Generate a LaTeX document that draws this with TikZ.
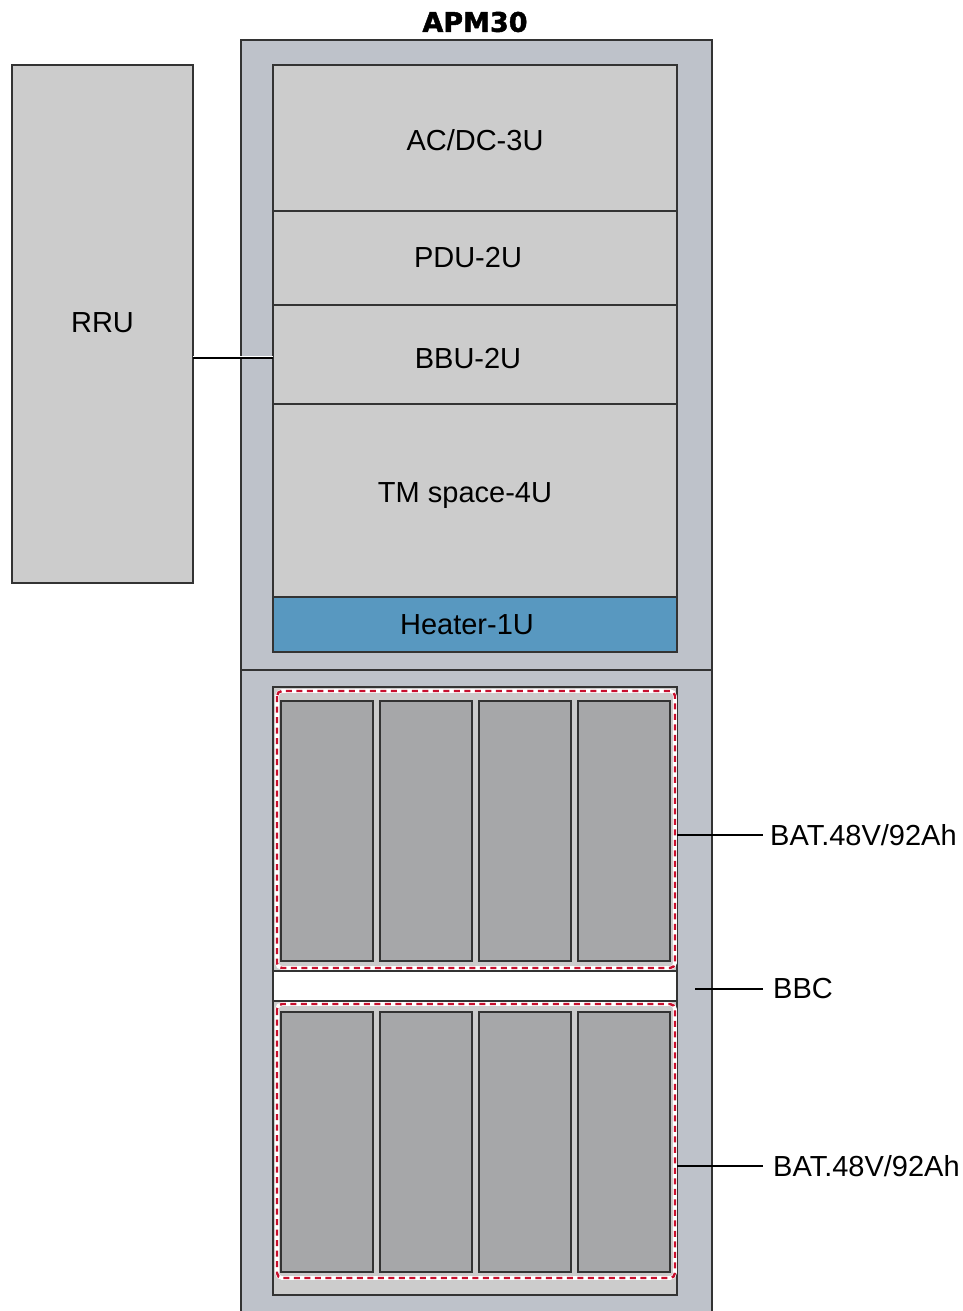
\documentclass[tikz,border=0pt]{standalone}
\usepackage{fontspec}
\setmainfont{Liberation Sans}
\newfontfamily\titlefont{DejaVu Sans Bold}[FakeBold=1.6]
\definecolor{cabgrey}{HTML}{BEC2CA}
\definecolor{boxgrey}{HTML}{CCCCCC}
\definecolor{batgrey}{HTML}{A6A7A9}
\definecolor{heatblue}{HTML}{5898C0}
\definecolor{edge}{HTML}{333333}
\definecolor{dashred}{HTML}{C8102E}
\tikzset{
  box/.style={draw=edge, line width=1.3pt, inner sep=0pt, outer sep=0pt, rectangle, font=\fontsize{29}{35}\selectfont},
  unitbox/.style={box, fill=boxgrey, minimum width=404pt},
  cell/.style={draw=edge, line width=1.5pt, fill=batgrey, minimum width=92pt, minimum height=260pt, inner sep=0pt, outer sep=0pt},
  leader/.style={draw=black, line width=1.5pt},
  lbl/.style={font=\fontsize{29}{35}\selectfont, inner sep=7pt, anchor=west},
}
\begin{document}
\begin{tikzpicture}[x=1pt,y=-1pt]
\useasboundingbox (0,0) rectangle (963,1311);
\fill[white] (0,0) rectangle (963,1311);
% title
\node[font=\titlefont\fontsize{27}{32}\selectfont, inner sep=0pt] (title) at (475,22) {APM30};
% cabinet
\node[box, fill=cabgrey, minimum width=471pt, minimum height=1275pt] (cab) at (476.5,677.5) {};
\draw[draw=edge, line width=1.5pt] (cab.west |- 0,670) coordinate (divl) -- (cab.east |- 0,670) coordinate (divr);
% RRU
\node[box, fill=boxgrey, minimum width=181pt, minimum height=518pt] (rru) at (102.5,324) {\raisebox{1pt}[\height][\depth]{RRU}};
% upper units
\node[unitbox, minimum height=146pt] (acdc) at (475,138) {\raisebox{-2pt}[\height][\depth]{AC/DC-3U}};
\node[unitbox, minimum height=94pt] (pdu) at (475,258) {\hspace*{-14pt}PDU-2U};
\node[unitbox, minimum height=99pt] (bbu) at (475,354.5) {\raisebox{-4pt}[\height][\depth]{\hspace*{-14pt}BBU-2U}};
\node[unitbox, minimum height=193pt] (tm) at (475,500.5) {\raisebox{5pt}[\height][\depth]{\hspace*{-20pt}TM space-4U}};
\node[unitbox, fill=heatblue, minimum height=55pt] (heater) at (475,624.5) {\hspace*{-16pt}Heater-1U};
% RRU connector
\draw[white, line width=1pt] ([yshift=1.5pt]bbu.west |- 0,358) -- ([yshift=1.5pt]rru.east |- 0,358);
\draw[black, line width=1.2pt] (bbu.west |- 0,358) -- (rru.east |- 0,358);
% lower box
\node[box, fill=boxgrey, minimum width=404pt, minimum height=608pt] (low) at (475,991) {};
% BBC strip
\node[box, fill=white, minimum width=404pt, minimum height=30pt] (bbc) at (475,986) {};
% battery cells
\foreach \i/\x in {1/327,2/426,3/525,4/624} {
  \node[cell] (ua\i) at (\x,831) {};
  \node[cell] (lb\i) at (\x,1142) {};
}
% dashed groups
\draw[white, line width=3.6pt, rounded corners=5pt] (277,691) rectangle (675,968);
\draw[dashred, line width=2.4pt, rounded corners=5pt, dash pattern=on 6pt off 4.5pt] (277,691) rectangle (675,968);
\draw[white, line width=3.6pt, rounded corners=5pt] (277,1004) rectangle (675,1278);
\draw[dashred, line width=2.4pt, rounded corners=5pt, dash pattern=on 6pt off 4.5pt] (277,1004) rectangle (675,1278);
\coordinate (upgrp) at (677,835);
\coordinate (dngrp) at (677,1166);
\coordinate (bbcpt) at (695,989);
% labels
\node[lbl] (bat1) at (763,835) {BAT.48V/92Ah};
\node[lbl, inner sep=10pt] (bbclbl) at (763,989) {BBC};
\node[lbl, inner sep=10pt] (bat2) at (763,1166) {BAT.48V/92Ah};
\draw[leader] (upgrp) -- (bat1.west);
\draw[leader] (bbcpt) -- (bbclbl.west);
\draw[leader] (dngrp) -- (bat2.west);
\end{tikzpicture}
\end{document}
